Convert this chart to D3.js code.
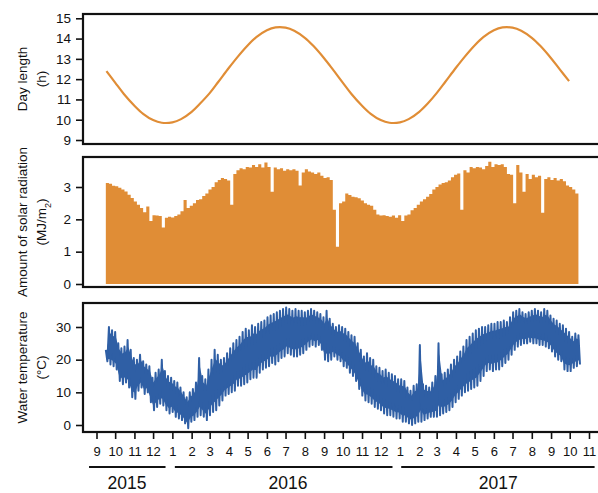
<!DOCTYPE html>
<html>
<head>
<meta charset="utf-8">
<script src="https://cdn.jsdelivr.net/npm/d3@7"></script>
<style>
  body { margin: 0; background: #fff; }
  svg { display: block; font-family: "Liberation Sans", Arial, sans-serif; }
</style>
</head>
<body>
<script>
// Day length (h), read every half month
const dayLengthDates = [
  "2015-09-17","2015-10-01","2015-10-15","2015-11-01","2015-11-15","2015-12-01","2015-12-15",
  "2016-01-01","2016-01-15","2016-02-01","2016-02-15","2016-03-01","2016-03-15","2016-04-01",
  "2016-04-15","2016-05-01","2016-05-15","2016-06-01","2016-06-15","2016-07-01","2016-07-15",
  "2016-08-01","2016-08-15","2016-09-01","2016-09-15","2016-10-01","2016-10-15","2016-11-01",
  "2016-11-15","2016-12-01","2016-12-15","2017-01-01","2017-01-15","2017-02-01","2017-02-15",
  "2017-03-01","2017-03-15","2017-04-01","2017-04-15","2017-05-01","2017-05-15","2017-06-01",
  "2017-06-15","2017-07-01","2017-07-15","2017-08-01","2017-08-15","2017-09-01","2017-09-15",
  "2017-09-30"
];
const dayLengthValues = [
  12.40,11.83,11.27,10.69,10.29,9.98,9.85,
  9.87,10.03,10.39,10.81,11.31,11.87,12.56,
  13.10,13.66,14.07,14.41,14.55,14.54,14.39,
  14.04,13.63,13.03,12.48,11.83,11.27,10.69,
  10.29,9.98,9.85,9.87,10.03,10.39,10.81,
  11.31,11.87,12.56,13.10,13.66,14.07,14.41,
  14.55,14.54,14.39,14.04,13.63,13.03,12.48,
  11.90
];

// Solar radiation (MJ/m2), 5-day bins starting 2015-09-16
const binStart = "2015-09-16";
const binDays = 5;
const solarValues = [
  3.12,3.10,3.04,3.02,2.98,2.92,2.86,2.76,2.66,2.55,
  2.45,2.35,2.22,2.40,1.95,2.13,2.12,2.10,1.75,2.05,
  2.08,2.06,2.10,2.15,2.25,2.60,2.35,2.42,2.50,2.60,
  2.62,2.72,2.80,2.92,3.00,3.15,3.22,3.28,3.25,3.20,
  2.45,3.40,3.52,3.58,3.55,3.62,3.60,3.68,3.62,3.70,
  3.60,3.76,3.62,2.85,3.60,3.55,3.58,3.50,3.55,3.52,
  3.55,3.50,3.05,3.45,3.55,3.48,3.45,3.40,3.45,3.35,
  3.28,3.30,3.22,2.30,1.15,2.50,2.55,2.80,2.75,2.70,
  2.68,2.65,2.58,2.50,2.45,2.42,2.30,2.15,2.12,2.13,
  2.10,2.08,2.12,2.05,2.13,1.95,2.12,2.15,2.28,2.35,
  2.45,2.55,2.62,2.70,2.78,2.92,3.00,3.08,3.12,3.15,
  3.20,3.30,3.38,3.42,2.30,3.52,3.45,3.62,3.58,3.62,
  3.60,3.55,3.65,3.78,3.62,3.70,3.68,3.70,3.62,3.40,
  3.38,2.50,3.68,3.45,2.85,3.40,3.25,3.38,3.30,3.35,
  2.20,3.25,3.30,3.22,3.28,3.20,3.25,3.18,3.05,3.00,
  2.92,2.80
];

// Water temperature (°C), high and low of each 5-day bin
const tempHigh = [
  23,30,29,28.5,25,23.5,24,26,23,20.5,
  20,21.5,19.5,18.5,18,14.5,16,17,20,16.5,
  15,14.5,13.5,13,11.5,10,8.5,10,11,13,
  20.5,15,14,17,20,23,21.5,20,20.5,22,
  23.5,25,26,27,28.5,29.5,29,30.5,30,31,
  31.5,32,33,33.5,34,34.5,35,35.5,36,35.5,
  35,35.5,35,35,34.5,35,35.5,35,34.5,34,
  33,35,32.5,31,30,30.5,30,29.5,28.5,27.5,
  27,25,23,21,22,20.5,20,18,17.5,16.5,
  17,16,15.5,15,14,14,13.5,11.5,10.5,12,
  12.5,24.5,12.5,12,11.5,13,15,25,15.5,16,
  17,18.5,20,21,22.5,24,26,27,28,29,
  29.5,30,30,30.5,31,31,31.5,31.5,32,31.5,
  33,34.5,35,35.5,34.5,34,34.5,35,35.5,35,
  34.5,35.5,35,33.5,32.5,32,31,30.5,29.5,28.5,
  27,28,27.5
];
const tempLow = [
  19.5,18.5,18,17,13.5,12.5,13,11.5,8.5,8,
  10.5,11.5,9.5,10,7,4.5,5.5,6.5,6,4.5,
  3.5,4,2.5,2,1.5,0.5,-1,1,1.5,2.5,
  3,2.5,1.5,3,4,4.5,6,7.5,9,9.5,
  10,10.5,12,12,12.5,13,14,14.5,14.5,16,
  17,17.5,18,19,18.5,19.5,20.5,21,22,21.5,
  21,21,21.5,22,23,24,24.5,24,24.5,23,
  20,19.5,20,21,20,19.5,18,17.5,16,15,
  13.5,11,9,7.5,7,6.5,5.5,5,4.5,3.5,
  3,3,2.5,2,2,1,1,0.5,0,0.5,
  1,1,1.5,2,2.5,2.5,2.5,3,3.5,4,
  4.5,5.5,7,8,9,10,10.5,11,11.5,12,
  13.5,15,16.5,17,16.5,17,17,18,19,20,
  21.5,23,24,24.5,25,25,25.5,25,25,24.5,
  24.5,24,23.5,22.5,21,20,19.5,17,16.5,16.5,
  17.5,18,18.5
];

// Axis ticks and year brackets
const dayTicks = [9, 10, 11, 12, 13, 14, 15];
const solarTicks = [0, 1, 2, 3];
const tempTicks = [0, 10, 20, 30];
const years = ["2015", "2016", "2017"];
const yearStarts = ["2015-08-20", "2016-01-05", "2017-01-03"];
const yearEnds = ["2015-12-21", "2016-12-20", "2017-11-10"];
const yearLabelDates = ["2015-10-20", "2016-07-05", "2017-06-08"];

const orange = "#e08d36";
const blue = "#2f5fa5";

const parse = d3.timeParse("%Y-%m-%d");
const width = 598, height = 493;
const plotLeft = 83, plotRight = 606;

const svg = d3.select("body").append("svg")
    .attr("width", width)
    .attr("height", height);

const x = d3.scaleTime()
    .domain([new Date(2015, 8, 1), new Date(2017, 10, 1)])
    .range([96.5, 589]);

const panels = [
  { top: 14, bottom: 144, y: d3.scaleLinear().domain([9, 15]).range([140, 18.3]), ticks: dayTicks,
    title: ["Day length", "(h)"] },
  { top: 157, bottom: 287, y: d3.scaleLinear().domain([0, 3]).range([284, 187]), ticks: solarTicks,
    title: ["Amount of solar radiation", null] },
  { top: 303, bottom: 432, y: d3.scaleLinear().domain([0, 30]).range([425, 327]), ticks: tempTicks,
    title: ["Water temperature", "(°C)"] }
];

// bin dates
const bin0 = parse(binStart);
const binDate = i => d3.timeHour.offset(bin0, Math.round(i * binDays * 24));

// Solar radiation as a stepped filled area (one step per bin)
const ySol = panels[1].y;
const solarData = solarValues.map((v, i) => ({ date: binDate(i), value: v }));
solarData.push({ date: binDate(solarValues.length), value: solarValues[solarValues.length - 1] });
svg.append("path")
    .datum(solarData)
    .attr("fill", orange)
    .attr("d", d3.area().curve(d3.curveStepAfter)
        .x(d => x(d.date)).y0(ySol(0)).y1(d => ySol(d.value)));

// Day length line
const dayData = dayLengthDates.map((d, i) => ({ date: parse(d), value: dayLengthValues[i] }));
const yDay = panels[0].y;
svg.append("path")
    .datum(dayData)
    .attr("fill", "none")
    .attr("stroke", orange)
    .attr("stroke-width", 2.2)
    .attr("d", d3.line().curve(d3.curveCatmullRom).x(d => x(d.date)).y(d => yDay(d.value)));

// Water temperature: band between lows and highs, plus the trace swinging between them
const yTemp = panels[2].y;
const bandData = tempHigh.map((h, i) => ({ date: binDate(i + 0.25), hi: h, lo: tempLow[i] }));
svg.append("path")
    .datum(bandData)
    .attr("fill", blue)
    .attr("d", d3.area().x(d => x(d.date))
        .y0(d => yTemp(Math.max(d.lo, d.hi - (d.hi - d.lo) * 0.85)))
        .y1(d => yTemp(Math.min(d.hi, d.lo + (d.hi - d.lo) * 0.85))));

const tempData = [];
tempHigh.forEach((h, i) => {
  tempData.push({ date: binDate(i), value: h });
  tempData.push({ date: binDate(i + 0.5), value: tempLow[i] });
});
svg.append("path")
    .datum(tempData)
    .attr("fill", "none")
    .attr("stroke", blue)
    .attr("stroke-width", 2)
    .attr("stroke-linejoin", "round")
    .attr("d", d3.line().x(d => x(d.date)).y(d => yTemp(d.value)));

// Panel frames, y axes and titles
panels.forEach(p => {
  svg.append("rect")
      .attr("x", plotLeft)
      .attr("y", p.top)
      .attr("width", plotRight - plotLeft)
      .attr("height", p.bottom - p.top)
      .attr("fill", "none")
      .attr("stroke", "#111")
      .attr("stroke-width", 2.2);

  const ax = svg.append("g")
      .attr("transform", `translate(${plotLeft},0)`)
      .call(d3.axisLeft(p.y).tickValues(p.ticks).tickFormat(d3.format("d")).tickSize(7).tickPadding(5));
  ax.select(".domain").remove();
  ax.selectAll("line").attr("stroke", "#111").attr("stroke-width", 1.6);
  ax.selectAll("text").attr("font-size", 13.5).attr("fill", "#111").attr("font-family", null);

  const yc = (p.top + p.bottom) / 2;
  svg.append("text")
      .attr("transform", `translate(22,${yc}) rotate(-90)`)
      .attr("dy", "0.35em")
      .attr("text-anchor", "middle")
      .attr("font-size", 13.5)
      .attr("fill", "#111")
      .text(p.title[0]);

  const t2 = svg.append("text")
      .attr("transform", `translate(41,${yc}) rotate(-90)`)
      .attr("dy", "0.35em")
      .attr("text-anchor", "middle")
      .attr("font-size", 13.5)
      .attr("fill", "#111");
  if (p.title[1]) {
    t2.text(p.title[1]);
  } else {
    t2.append("tspan").text("(MJ/m");
    t2.append("tspan").attr("baseline-shift", "sub").attr("font-size", 9).text("2");
    t2.append("tspan").text(")");
  }
});

// Month axis along the bottom panel
const months = d3.timeMonth.range(new Date(2015, 8, 1), new Date(2017, 10, 2));
const xAxis = svg.append("g")
    .attr("transform", `translate(0,${panels[2].bottom})`)
    .call(d3.axisBottom(x).tickValues(months).tickFormat(d3.timeFormat("%-m")).tickSize(7).tickPadding(8));
xAxis.select(".domain").remove();
xAxis.selectAll("line").attr("stroke", "#111").attr("stroke-width", 1.6);
xAxis.selectAll("text").attr("font-size", 13).attr("fill", "#111").attr("font-family", null);

// Year brackets
const yearG = svg.append("g");
years.forEach((yr, i) => {
  yearG.append("line")
      .attr("x1", x(parse(yearStarts[i])))
      .attr("x2", x(parse(yearEnds[i])))
      .attr("y1", 467)
      .attr("y2", 467)
      .attr("stroke", "#111")
      .attr("stroke-width", 2);
  yearG.append("text")
      .attr("x", x(parse(yearLabelDates[i])))
      .attr("y", 489)
      .attr("text-anchor", "middle")
      .attr("font-size", 17.5)
      .attr("fill", "#111")
      .text(yr);
});
</script>
</body>
</html>
